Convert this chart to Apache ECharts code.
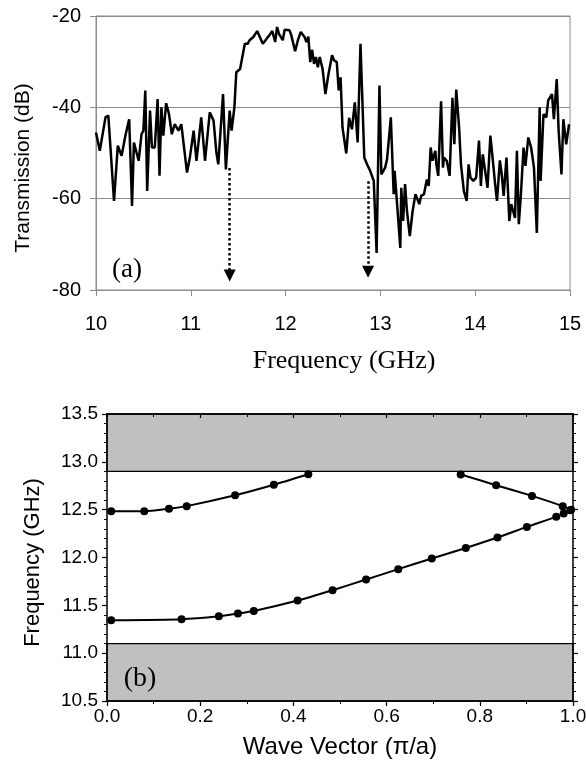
<!DOCTYPE html>
<html>
<head>
<meta charset="utf-8">
<script src="https://cdn.jsdelivr.net/npm/echarts@6/dist/echarts.min.js"></script>
<style>
  html, body { margin: 0; padding: 0; background: #fff; }
  #main { width: 586px; height: 766px; }
</style>
</head>
<body>
<div id="main"></div>
<script>
// (a) measured transmission spectrum
var freqGHz = [
  10.00, 10.04, 10.10, 10.13, 10.19, 10.23, 10.27, 10.31, 10.33, 10.35,
  10.38, 10.40, 10.45, 10.48, 10.50, 10.52, 10.54, 10.57, 10.59, 10.62,
  10.65, 10.67, 10.69, 10.71, 10.74, 10.77, 10.80, 10.83, 10.87, 10.90,
  10.96, 10.99, 11.03, 11.06, 11.11, 11.15, 11.20, 11.24, 11.27, 11.29,
  11.34, 11.37, 11.41, 11.43, 11.46, 11.48, 11.52, 11.57, 11.60, 11.62,
  11.66, 11.70, 11.72, 11.76, 11.80, 11.84, 11.86, 11.89, 11.91, 11.93,
  11.97, 11.99, 12.04, 12.06, 12.10, 12.13, 12.16, 12.20, 12.22, 12.24,
  12.26, 12.28, 12.30, 12.32, 12.34, 12.36, 12.39, 12.42, 12.45, 12.49,
  12.51, 12.54, 12.56, 12.58, 12.60, 12.64, 12.67, 12.70, 12.71, 12.73,
  12.76, 12.79, 12.83, 12.86, 12.89, 12.93, 12.96, 12.99, 13.01, 13.05,
  13.07, 13.09, 13.11, 13.14, 13.15, 13.18, 13.21, 13.22, 13.24, 13.26,
  13.28, 13.31, 13.34, 13.37, 13.39, 13.41, 13.43, 13.46, 13.49, 13.51,
  13.53, 13.55, 13.58, 13.59, 13.61, 13.64, 13.66, 13.67, 13.70, 13.73,
  13.76, 13.78, 13.80, 13.83, 13.85, 13.88, 13.91, 13.93, 13.95, 13.98,
  14.01, 14.04, 14.06, 14.08, 14.10, 14.13, 14.16, 14.18, 14.21, 14.23,
  14.26, 14.28, 14.30, 14.33, 14.36, 14.38, 14.40, 14.42, 14.44, 14.46,
  14.48, 14.51, 14.53, 14.56, 14.59, 14.62, 14.65, 14.68, 14.69, 14.72,
  14.75, 14.77, 14.81, 14.83, 14.86, 14.88, 14.91, 14.93, 14.96, 14.99
];
var transDb = [
  -45.5, -49.5, -42.2, -41.8, -60.5, -48.4, -50.6, -46.2, -46.6, -42.6,
  -61.6, -47.7, -51.7, -45.9, -45.1, -36.3, -58.3, -40.7, -48.8, -48.8,
  -38.2, -55.0, -40.0, -46.2, -39.1, -41.5, -45.9, -43.7, -45.1, -43.7,
  -54.3, -51.0, -45.1, -51.7, -42.2, -51.7, -41.1, -42.9, -49.9, -52.5,
  -37.1, -53.6, -40.7, -45.1, -40.0, -32.3, -31.6, -26.1, -26.1, -25.3,
  -24.6, -23.3, -23.7, -26.1, -25.0, -23.9, -23.3, -25.7, -22.4, -23.9,
  -25.3, -23.0, -23.1, -24.2, -27.7, -25.3, -23.5, -24.6, -25.7, -24.5,
  -30.1, -27.4, -30.5, -29.0, -31.2, -29.0, -31.6, -37.1, -33.0, -28.6,
  -29.7, -30.1, -36.3, -33.4, -44.4, -50.1, -42.3, -44.8, -45.2, -38.9,
  -47.7, -26.1, -51.0, -52.5, -53.8, -56.1, -71.9, -35.2, -54.7, -53.2,
  -51.4, -51.0, -42.2, -59.0, -53.9, -62.3, -70.8, -57.6, -64.9, -56.8,
  -62.7, -68.2, -62.7, -59.0, -59.4, -61.2, -59.4, -59.0, -55.8, -57.2,
  -48.8, -51.7, -49.5, -52.5, -55.0, -38.7, -53.2, -51.0, -51.7, -55.0,
  -37.9, -48.1, -36.1, -44.4, -52.5, -58.3, -60.5, -52.5, -55.4, -56.1,
  -55.4, -47.3, -57.2, -50.3, -53.2, -57.6, -46.2, -50.3, -56.8, -60.5,
  -51.6, -54.7, -59.4, -51.0, -64.9, -61.2, -62.7, -64.2, -49.5, -65.6,
  -59.8, -48.8, -52.8, -46.6, -48.8, -53.2, -67.5, -40.0, -56.1, -41.5,
  -42.2, -38.5, -37.1, -42.6, -33.8, -45.1, -54.7, -42.6, -48.1, -43.7
];
// band edges marked by the dotted arrows: [freq, start dB, end dB]
var edgeArrows = [
  [11.41, -53.3, -76.8],
  [12.87, -56.2, -76.0]
];

// (b) calculated dispersion
var upperLeftK = [0.009, 0.080, 0.133, 0.171, 0.275, 0.358, 0.432];
var upperLeftF = [12.484, 12.484, 12.51, 12.537, 12.65, 12.76, 12.87];
var upperRightK = [0.759, 0.835, 0.912, 0.978, 0.996];
var upperRightF = [12.868, 12.756, 12.644, 12.537, 12.50];
var lowerK = [0.009, 0.160, 0.240, 0.281, 0.315, 0.409, 0.484, 0.556, 0.625,
  0.697, 0.770, 0.838, 0.901, 0.964, 0.980, 0.994];
var lowerF = [11.344, 11.355, 11.386, 11.414, 11.44, 11.55, 11.658, 11.77, 11.878,
  11.99, 12.10, 12.209, 12.32, 12.425, 12.46, 12.495];
var gapHigh = [12.9, 13.5];
var gapLow = [10.5, 11.1];

function zip(a, b) {
  return a.map(function (v, i) { return [v, b[i]]; });
}

var chart = echarts.init(document.getElementById('main'));

var grayAx = '#8c8c8c';
var sans = 'Liberation Sans';
var serif = 'Liberation Serif';

function boxAxis(extra) {
  var ax = {
    gridIndex: 1,
    type: 'value',
    z: 5,
    axisLine: { show: true, onZero: false, lineStyle: { color: '#000', width: 1.5 } },
    axisTick: { show: true, inside: false, length: 5, lineStyle: { color: '#000', width: 1.2 } },
    minorTick: { show: true, length: 3, lineStyle: { color: '#000', width: 1 } },
    splitLine: { show: false },
    axisLabel: { show: false }
  };
  for (var k in extra) ax[k] = extra[k];
  return ax;
}

var option = {
  animation: false,
  backgroundColor: '#fff',
  grid: [
    { left: 96, top: 16, width: 474, height: 274, show: true, borderColor: grayAx, borderWidth: 1,
      containLabel: false, outerBoundsMode: 'none' },
    { left: 107, top: 414, width: 466, height: 287,
      containLabel: false, outerBoundsMode: 'none' }
  ],
  xAxis: [
    {
      gridIndex: 0, type: 'value', min: 10, max: 15, interval: 1,
      axisLine: { show: true, onZero: false, lineStyle: { color: grayAx } },
      axisTick: { show: true, inside: false, length: 6, lineStyle: { color: grayAx } },
      splitLine: { show: false },
      axisLabel: { color: '#000', fontFamily: sans, fontSize: 20, margin: 24 },
      name: 'Frequency (GHz)', nameLocation: 'middle', nameGap: 58,
      nameTextStyle: { color: '#000', fontFamily: serif, fontSize: 26, padding: [0, 0, 0, 22] }
    },
    boxAxis({
      position: 'bottom', min: 0, max: 1, interval: 0.2,
      minorTick: { show: true, splitNumber: 2, length: 3, lineStyle: { color: '#000', width: 1 } },
      axisLabel: { show: true, color: '#000', fontFamily: sans, fontSize: 19, margin: 6,
        formatter: function (v) { return v.toFixed(1); } },
      name: 'Wave Vector (\u03c0/a)', nameLocation: 'middle', nameGap: 34,
      nameTextStyle: { color: '#000', fontFamily: sans, fontSize: 24 }
    }),
    boxAxis({
      position: 'top', min: 0, max: 1, interval: 0.2,
      axisTick: { show: true, inside: true, length: 4, lineStyle: { color: '#000', width: 1.2 } },
      minorTick: { show: true, splitNumber: 2, length: 3, lineStyle: { color: '#000', width: 1 } }
    })
  ],
  yAxis: [
    {
      gridIndex: 0, type: 'value', min: -80, max: -20, interval: 20,
      axisLine: { show: true, onZero: false, lineStyle: { color: grayAx } },
      axisTick: { show: true, inside: false, length: 6, lineStyle: { color: grayAx } },
      splitLine: { show: true, lineStyle: { color: grayAx, width: 1 } },
      axisLabel: { color: '#000', fontFamily: sans, fontSize: 20, margin: 15 },
      name: 'Transmission (dB)', nameLocation: 'middle', nameGap: 62,
      nameTextStyle: { color: '#000', fontFamily: sans, fontSize: 21, padding: [0, 30, 0, 0] }
    },
    boxAxis({
      position: 'left', min: 10.5, max: 13.5, interval: 0.5,
      minorTick: { show: true, splitNumber: 5, length: 3, lineStyle: { color: '#000', width: 1 } },
      axisLabel: { show: true, color: '#000', fontFamily: sans, fontSize: 19, margin: 9,
        formatter: function (v) { return v.toFixed(1); } },
      name: 'Frequency (GHz)', nameLocation: 'middle', nameGap: 63,
      nameTextStyle: { color: '#000', fontFamily: sans, fontSize: 22, padding: [0, 10, 0, 0] }
    }),
    boxAxis({
      position: 'right', min: 10.5, max: 13.5, interval: 0.5,
      minorTick: { show: true, splitNumber: 5, length: 3, lineStyle: { color: '#000', width: 1 } }
    })
  ],
  graphic: [
    { type: 'text', x: 127, y: 270, z: 100,
      style: { text: '(a)', font: '27px "Liberation Serif"', fill: '#000',
        textAlign: 'center', textVerticalAlign: 'middle' } },
    { type: 'text', x: 140, y: 679, z: 100,
      style: { text: '(b)', font: '28px "Liberation Serif"', fill: '#000',
        textAlign: 'center', textVerticalAlign: 'middle' } }
  ],
  series: [
    {
      name: 'Transmission', type: 'line', xAxisIndex: 0, yAxisIndex: 0,
      data: zip(freqGHz, transDb),
      showSymbol: false, symbol: 'none',
      lineStyle: { color: '#000', width: 2.5 },
      itemStyle: { color: '#000' },
      silent: true,
      markLine: {
        silent: true,
        symbol: ['none', 'triangle'],
        symbolSize: 12,
        label: { show: false },
        lineStyle: { color: '#000', width: 2.5, type: 'dotted' },
        itemStyle: { color: '#000' },
        data: edgeArrows.map(function (a) {
          return [{ coord: [a[0], a[1]] }, { coord: [a[0], a[2]] }];
        })
      }
    },
    {
      name: 'lower', type: 'line', xAxisIndex: 1, yAxisIndex: 1,
      data: zip(lowerK, lowerF), smooth: 0.2,
      symbol: 'circle', symbolSize: 8,
      lineStyle: { color: '#000', width: 2 }, itemStyle: { color: '#000' },
      markArea: {
        silent: true,
        itemStyle: { color: '#c0c0c0', borderColor: '#000', borderWidth: 1.3 },
        data: [
          [{ yAxis: gapHigh[0] }, { yAxis: gapHigh[1] }],
          [{ yAxis: gapLow[0] }, { yAxis: gapLow[1] }]
        ]
      }
    },
    {
      name: 'upperLeft', type: 'line', xAxisIndex: 1, yAxisIndex: 1,
      data: zip(upperLeftK, upperLeftF), smooth: 0.2,
      symbol: 'circle', symbolSize: 8,
      lineStyle: { color: '#000', width: 2 }, itemStyle: { color: '#000' }
    },
    {
      name: 'upperRight', type: 'line', xAxisIndex: 1, yAxisIndex: 1,
      data: zip(upperRightK, upperRightF), smooth: 0.2,
      symbol: 'circle', symbolSize: 8,
      lineStyle: { color: '#000', width: 2 }, itemStyle: { color: '#000' }
    }
  ]
};

chart.setOption(option);
</script>
</body>
</html>
